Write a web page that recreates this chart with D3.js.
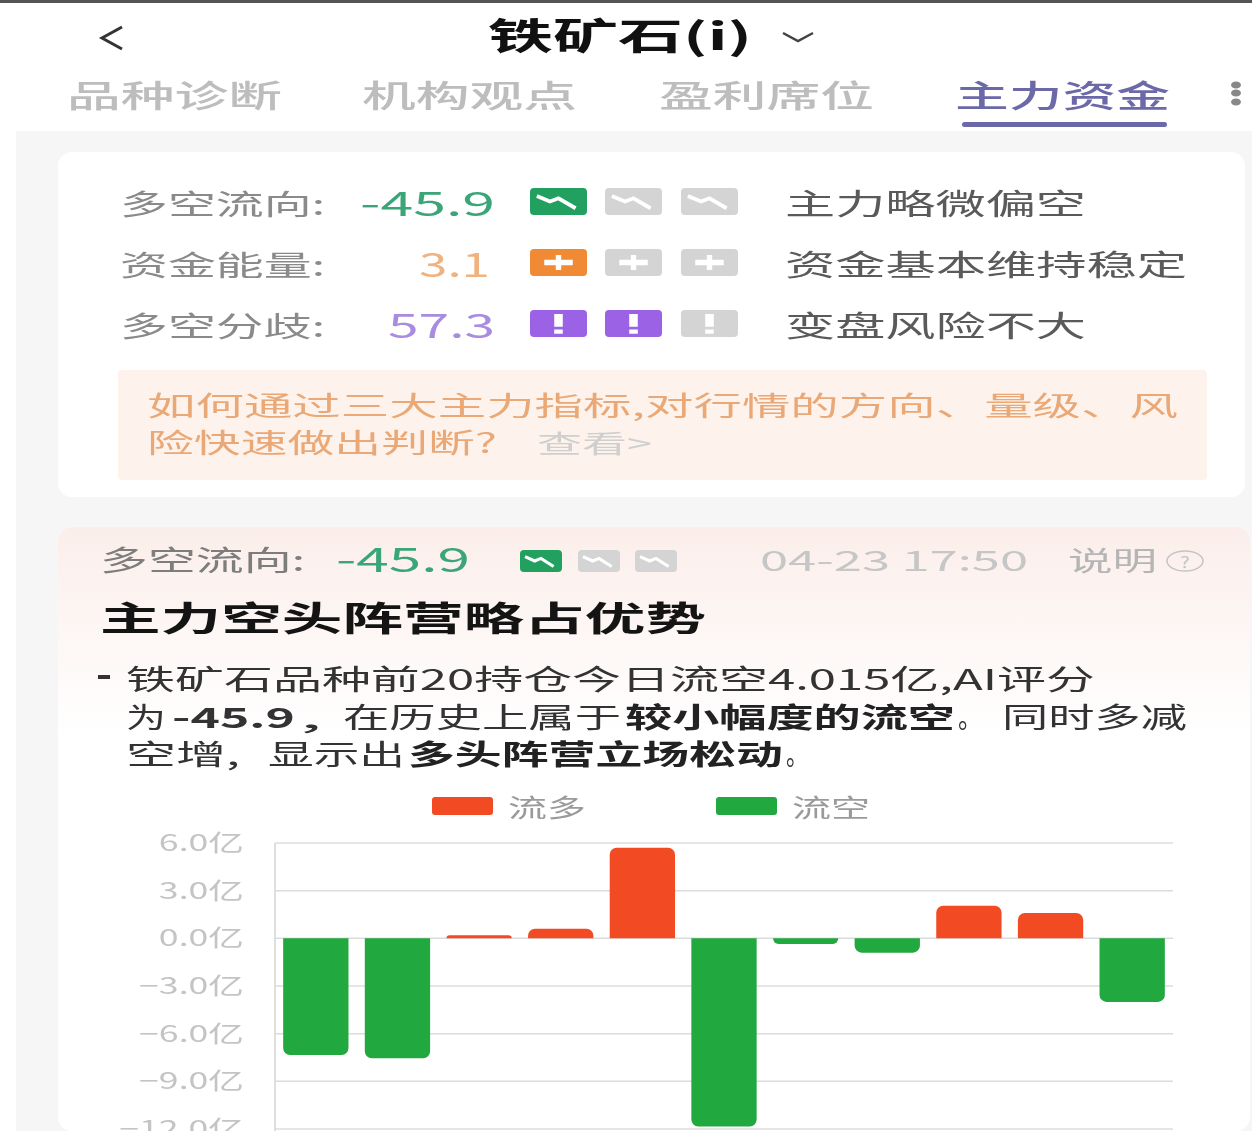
<!DOCTYPE html>
<html>
<head>
<meta charset="utf-8">
<script src="https://cdn.jsdelivr.net/npm/d3@7"></script>
<style>
  html, body { margin: 0; padding: 0; background: #fff; overflow: hidden; }
  svg { display: block; filter: blur(0.7px); }
  text { font-family: "Noto Sans CJK SC", "Noto Sans", sans-serif; }
</style>
</head>
<body>
<svg width="1252" height="1131"></svg>
<script>
// chart values (unit: 亿)
const periods = ["1", "2", "3", "4", "5", "6", "7", "8", "9", "10", "11"];
const flows = [-7.35, -7.55, 0.2, 0.6, 5.7, -11.85, -0.35, -0.9, 2.05, 1.6, -4.0];
const yTicks = [6, 3, 0, -3, -6, -9, -12];
const seriesNames = ["流多", "流空"];
const seriesColors = ["#f24a22", "#21a83e"];

const tabs = ["品种诊断", "机构观点", "盈利席位", "主力资金"];
const tabStarts = [67, 362, 659, 955];

const rowLabels = ["多空流向:", "资金能量:", "多空分歧:"];
const rowValues = ["-45.9", "3.1", "57.3"];
const rowLevels = [1, 1, 2];
const rowNotes = ["主力略微偏空", "资金基本维持稳定", "变盘风险不大"];
const rowColors = ["#3aa577", "#f0b27f", "#a98be0"];
const rowSolid = ["#22a060", "#f08a34", "#9b62e6"];

const svg = d3.select("svg");

// the screenshot is stretched sideways, so every text gets its own width
const label = (txt, x, y, width, size, color, weight) => {
  return svg
    .append("text")
    .attr("x", x)
    .attr("y", y)
    .attr("dominant-baseline", "central")
    .attr("textLength", width)
    .attr("lengthAdjust", "spacingAndGlyphs")
    .attr("font-size", size)
    .attr("font-weight", weight || 400)
    .attr("fill", color)
    .text(txt);
};

const box = (x, y, w, h, r, fill) => {
  return svg
    .append("rect")
    .attr("x", x)
    .attr("y", y)
    .attr("width", w)
    .attr("height", h)
    .attr("rx", r)
    .attr("fill", fill);
};

const stroke = (d, color, width) => {
  return svg
    .append("path")
    .attr("d", d)
    .attr("fill", "none")
    .attr("stroke", color)
    .attr("stroke-width", width);
};

// backgrounds
const defs = svg.append("defs");
const grad = defs
  .append("linearGradient")
  .attr("id", "cardFade")
  .attr("x1", 0)
  .attr("x2", 0)
  .attr("y1", 0)
  .attr("y2", 1);
grad.append("stop").attr("offset", 0).attr("stop-color", "#fbeeea");
grad.append("stop").attr("offset", 1).attr("stop-color", "#ffffff");

box(0, 0, 1252, 1131, 0, "#ffffff");
box(16, 131, 1236, 1000, 0, "#f6f6f6");
box(0, 0, 1252, 3, 0, "#555555");
box(58, 152, 1187, 345, 14, "#ffffff");
box(58, 527, 1192, 604, 14, "#ffffff");
box(58, 527, 1192, 210, 14, "url(#cardFade)");
box(118, 370, 1089, 110, 4, "#fdf3ec");

// header
stroke("M122,27 L102,38 L122,49", "#333", 3);
label("铁矿石(i)", 488, 34, 264, 37, "#111", 700);
stroke("M783,33 L798,41 L813,33", "#444", 2.5);

tabs.forEach((t, i) => {
  label(t, tabStarts[i], 93, 215, 31, i === 3 ? "#6c69a9" : "#bdbdbd", 500);
});
box(962, 122, 205, 5, 2.5, "#6c69a9");
[85, 93, 102].forEach((y) => {
  svg.append("ellipse").attr("cx", 1236).attr("cy", y).attr("rx", 5).attr("ry", 3.5).attr("fill", "#888");
});

// little level icons: 0 falling line, 1 plus, 2 exclamation
const icon = (kind, x, y, w, h, color) => {
  box(x, y, w, h, 4, color);
  const px = (f) => x + f * w;
  const py = (f) => y + f * h;
  if (kind === 0) {
    stroke(`M${px(0.12)},${py(0.3)} L${px(0.35)},${py(0.5)} L${px(0.5)},${py(0.38)} L${px(0.8)},${py(0.75)}`, "#fff", h * 0.14);
  } else if (kind === 1) {
    stroke(`M${px(0.25)},${py(0.5)} L${px(0.75)},${py(0.5)} M${px(0.5)},${py(0.22)} L${px(0.5)},${py(0.78)}`, "#fff", h * 0.2);
  } else {
    stroke(`M${px(0.5)},${py(0.15)} L${px(0.5)},${py(0.62)} M${px(0.5)},${py(0.72)} L${px(0.5)},${py(0.88)}`, "#fff", w * 0.15);
  }
};

const iconX = [530, 605, 681];
const rowY = [203, 264, 325];
const valueX = [360, 419, 388];
const valueW = [135, 71, 107];
const noteW = [301, 402, 301];

rowLabels.forEach((t, i) => {
  label(t, 120, rowY[i], 205, 28, "#8a8a8a");
  label(rowValues[i], valueX[i], rowY[i] - 2, valueW[i], 34, rowColors[i]);
  iconX.forEach((x, j) => {
    icon(i, x, rowY[i] - 15, 57, 27, j < rowLevels[i] ? rowSolid[i] : "#d4d4d4");
  });
  label(rowNotes[i], 785, rowY[i] - 1, noteW[i], 29, "#5a5a5a");
});

// callout
label("如何通过三大主力指标,对行情的方向、量级、风", 147, 404, 1031, 27, "#e9a876");
label("险快速做出判断?", 147, 441, 350, 27, "#e9a876");
label("查看>", 537, 442, 115, 25, "#cfcfcf");

// second card head
label("多空流向:", 100, 559, 205, 28, "#7d7d7d");
label("-45.9", 336, 557, 134, 34, "#3aa577");
[520, 578, 635].forEach((x, j) => {
  icon(0, x, 550, 42, 22, j < 1 ? "#22a060" : "#d4d4d4");
});
label("04-23 17:50", 760, 559, 268, 28, "#c6c6c6");
label("说明", 1068, 559, 89, 27, "#b5b5b5");
svg
  .append("ellipse")
  .attr("cx", 1185)
  .attr("cy", 561)
  .attr("rx", 18)
  .attr("ry", 10)
  .attr("fill", "none")
  .attr("stroke", "#c4c4c4")
  .attr("stroke-width", 1.5);
label("?", 1180, 561, 10, 15, "#c4c4c4");

label("主力空头阵营略占优势", 100, 616, 606, 34, "#141414", 700);

// paragraph
stroke("M98,677 L110,677", "#333", 4);
label("铁矿石品种前20持仓今日流空4.015亿,AI评分", 126, 678, 969, 28, "#333");
label("为", 126, 716, 40, 28, "#333");
label("-45.9", 172, 716, 123, 28, "#333", 700);
label(",", 300, 716, 22, 28, "#333");
label("在历史上属于", 343, 716, 278, 28, "#333");
label("较小幅度的流空", 625, 716, 330, 28, "#222", 700);
label("。", 958, 716, 24, 28, "#333");
label("同时多减", 1002, 716, 185, 28, "#333");
label("空增,", 126, 753, 114, 28, "#333");
label("显示出", 268, 753, 137, 28, "#333");
label("多头阵营立场松动", 408, 753, 375, 28, "#222", 700);
label("。", 786, 753, 22, 28, "#333");

// legend
box(432, 797, 61, 18, 3, seriesColors[0]);
label(seriesNames[0], 508, 806, 78, 25, "#9a9a9a");
box(716, 797, 61, 18, 3, seriesColors[1]);
label(seriesNames[1], 792, 806, 78, 25, "#9a9a9a");

// chart
const plotLeft = 275;
const plotRight = 1173;

const xScale = d3
  .scaleBand()
  .domain(periods)
  .range([plotLeft, plotRight])
  .paddingInner(0.2)
  .paddingOuter(0.1);

const yScale = d3.scaleLinear().domain([6, -12]).range([843, 1129]);

const yAxis = d3
  .axisLeft(yScale)
  .tickValues(yTicks)
  .tickSize(0)
  .tickPadding(31)
  .tickFormat((d) => `${d.toFixed(1)}亿`.replace("-", "−"));

const axisG = svg.append("g").attr("transform", `translate(${plotLeft},0)`).call(yAxis);
axisG.select(".domain").remove();
axisG
  .selectAll("text")
  .attr("font-size", 23)
  .attr("fill", "#c4c4c4")
  .attr("lengthAdjust", "spacingAndGlyphs")
  .attr("textLength", function () {
    return this.getComputedTextLength() * 1.55;
  });

svg
  .selectAll("line.grid")
  .data(yTicks)
  .enter()
  .append("line")
  .attr("class", "grid")
  .attr("x1", plotLeft)
  .attr("x2", plotRight)
  .attr("y1", (d) => yScale(d))
  .attr("y2", (d) => yScale(d))
  .attr("stroke", "#dcdcdc")
  .attr("stroke-width", 1.5);

svg
  .append("line")
  .attr("x1", plotLeft)
  .attr("x2", plotLeft)
  .attr("y1", yScale(6))
  .attr("y2", 1131)
  .attr("stroke", "#d4d4d4")
  .attr("stroke-width", 1.5);

// bars round only on the end away from zero
const barPath = (d, i) => {
  const x0 = xScale(periods[i]);
  const x1 = x0 + xScale.bandwidth();
  const y0 = yScale(0);
  const y1 = yScale(d);
  const r = Math.min(7, Math.abs(y1 - y0));
  const s = d > 0 ? 1 : -1;
  const sweep = d > 0 ? 1 : 0;
  return `M${x0},${y0} L${x0},${y1 + s * r} A${r},${r} 0 0 ${sweep} ${x0 + r},${y1} L${x1 - r},${y1} A${r},${r} 0 0 ${sweep} ${x1},${y1 + s * r} L${x1},${y0} Z`;
};

svg
  .selectAll("path.bar")
  .data(flows)
  .enter()
  .append("path")
  .attr("class", "bar")
  .attr("d", barPath)
  .attr("fill", (d) => (d > 0 ? seriesColors[0] : seriesColors[1]));
</script>
</body>
</html>
